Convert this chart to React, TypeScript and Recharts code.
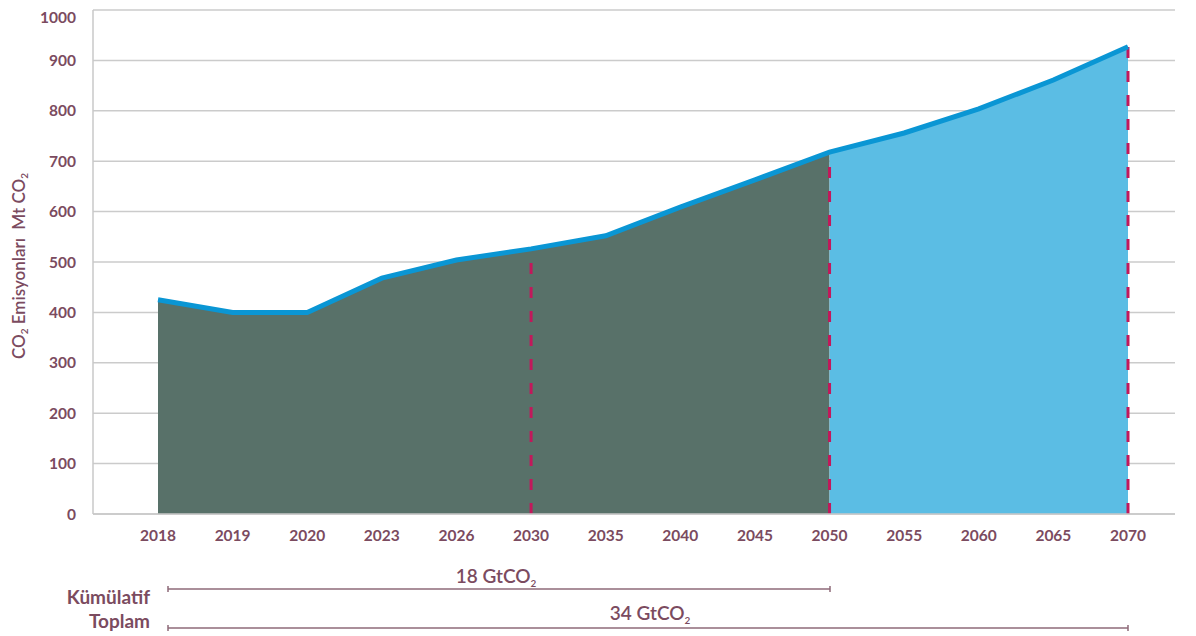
import React from 'react';
import {
    ComposedChart,
    Area,
    Line,
    XAxis,
    YAxis,
    CartesianGrid,
    ReferenceLine
} from 'recharts';

const years = ['2018', '2019', '2020', '2023', '2026', '2030', '2035', '2040', '2045', '2050', '2055', '2060', '2065', '2070'];
const emissions = [425, 400, 400, 468, 504, 526, 552, 609, 663, 718, 756, 804, 861, 927];
const yTicks = [0, 100, 200, 300, 400, 500, 600, 700, 800, 900, 1000];
const splitYear = '2050';
const markerYears = ['2030', '2050', '2070'];

const PLUM = '#7b4b5f';
const splitIdx = years.indexOf(splitYear);

const data = years.map((year, i) => ({
    year,
    total: emissions[i],
    early: i <= splitIdx ? emissions[i] : null,
    late: i >= splitIdx ? emissions[i] : null
}));

const W = 1188;
const H = 628;

function Sub({ children }: { children: React.ReactNode }) {
    return <tspan fontSize={10} dy={4}>{children}</tspan>;
}

export default function App() {
    return (
        <div style={{ position: 'relative', width: W, height: H, fontFamily: 'Lato, sans-serif' }}>
            <ComposedChart width={W} height={H} data={data} margin={{ top: 2, right: 21, bottom: 92, left: 0 }}>
                <CartesianGrid vertical={false} stroke="#cbcbcb" strokeWidth={1.5} />
                <XAxis
                    dataKey="year"
                    padding={{ left: 65, right: 47 }}
                    axisLine={{ stroke: '#c8c8c8', strokeWidth: 1.5 }}
                    tickLine={false}
                    tickSize={0}
                    tickMargin={16}
                    interval={0}
                    tick={{ fill: PLUM, fontSize: 15.5, fontWeight: 700, fontFamily: 'Lato' }}
                />
                <YAxis
                    type="number"
                    domain={[0, 1000]}
                    ticks={yTicks}
                    width={85}
                    axisLine={{ stroke: '#c8c8c8', strokeWidth: 1.5 }}
                    tickLine={false}
                    tickSize={0}
                    tickMargin={17}
                    tick={{ fill: PLUM, fontSize: 15.5, fontWeight: 700, fontFamily: 'Lato' }}
                />
                <Area
                    dataKey="early"
                    type="linear"
                    stroke="none"
                    fill="#587169"
                    fillOpacity={1}
                    isAnimationActive={false}
                    connectNulls={false}
                />
                <Area
                    dataKey="late"
                    type="linear"
                    stroke="none"
                    fill="#5bbde4"
                    fillOpacity={1}
                    isAnimationActive={false}
                    connectNulls={false}
                />
                {markerYears.map(y => (
                    <ReferenceLine
                        key={y}
                        segment={[{ x: y, y: 0 }, { x: y, y: emissions[years.indexOf(y)] }]}
                        stroke="#c2185b"
                        strokeWidth={3}
                        strokeDasharray="11 13"
                    />
                ))}
                <Line
                    dataKey="total"
                    type="linear"
                    stroke="#0a96d4"
                    strokeWidth={5}
                    dot={false}
                    activeDot={false}
                    isAnimationActive={false}
                />
            </ComposedChart>
            <svg
                width={W}
                height={H}
                style={{ position: 'absolute', left: 0, top: 0, pointerEvents: 'none', overflow: 'visible' }}
                fontFamily="Lato, sans-serif"
            >
                <text
                    transform="translate(13, 258) rotate(-90)"
                    textAnchor="middle"
                    fill={PLUM}
                    fontSize={17}
                    fontWeight={600}
                    dominantBaseline="middle"
                >
                    <tspan>CO</tspan>
                    <Sub>2</Sub>
                    <tspan dy={-4}>{' Emisyonları\u00A0\u00A0Mt CO'}</tspan>
                    <Sub>2</Sub>
                </text>

                <text x={142} y={596} textAnchor="end" fill={PLUM} fontSize={19} fontWeight={700}>Kümülatif</text>
                <text x={142} y={620} textAnchor="end" fill={PLUM} fontSize={19} fontWeight={700}>Toplam</text>

                <g stroke="#8e6a79" strokeWidth={1.5}>
                    <line x1={160} x2={822} y1={581} y2={581} />
                    <line x1={160} x2={160} y1={578} y2={584} />
                    <line x1={822} x2={822} y1={578} y2={584} />
                    <line x1={160} x2={1120} y1={620} y2={620} />
                    <line x1={160} x2={160} y1={617} y2={623} />
                    <line x1={1120} x2={1120} y1={617} y2={623} />
                </g>

                <text x={488} y={575} textAnchor="middle" fill={PLUM} fontSize={19} fontWeight={600}>
                    <tspan>18 GtCO</tspan>
                    <Sub>2</Sub>
                </text>
                <text x={642} y={612} textAnchor="middle" fill={PLUM} fontSize={19} fontWeight={600}>
                    <tspan>34 GtCO</tspan>
                    <Sub>2</Sub>
                </text>
            </svg>
        </div>
    );
}
